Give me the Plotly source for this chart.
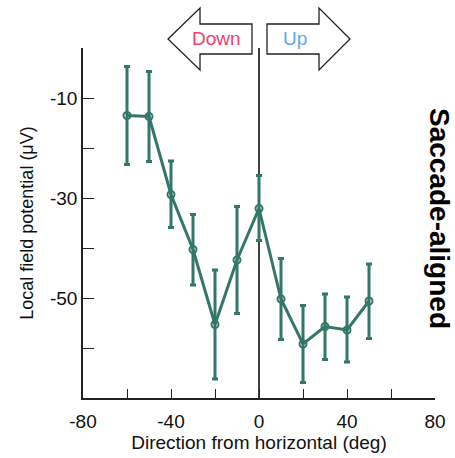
import plotly.graph_objects as go

direction = [-60, -50, -40, -30, -20, -10, 0, 10, 20, 30, 40, 50]
lfp = [-13.5, -13.7, -29.3, -40.3, -55.3, -42.4, -32.1, -50.2, -59.2, -55.7, -56.4, -50.6]
err_top = [-3.7, -4.7, -22.6, -33.3, -44.4, -31.7, -25.5, -42.1, -51.5, -49.2, -49.8, -43.2]
err_bot = [-23.3, -22.7, -35.9, -47.4, -66.2, -53.1, -38.5, -58.3, -66.9, -62.3, -62.8, -58.1]

xticks = [-80, -60, -40, -20, 0, 20, 40, 60, 80]
xticklabels = ["-80", "", "-40", "", "0", "", "40", "", "80"]
yticks = [0, -10, -20, -30, -40, -50, -60, -70]
yticklabels = ["", "-10", "", "-30", "", "-50", "", ""]

color = "#33776a"
plus = [t - v for t, v in zip(err_top, lfp)]
minus = [v - b for v, b in zip(lfp, err_bot)]

fig = go.Figure()
fig.add_trace(go.Scatter(
    x=direction, y=lfp, mode="lines+markers",
    line=dict(color=color, width=3),
    marker=dict(symbol="circle-open", size=7, color=color, line=dict(width=2, color=color)),
    error_y=dict(type="data", symmetric=False, array=plus, arrayminus=minus,
                 color=color, thickness=3, width=3),
    cliponaxis=False, showlegend=False,
))

fig.add_shape(type="line", xref="x", yref="y", x0=0, x1=0, y0=-70, y1=0,
              line=dict(color="black", width=1.5), layer="below")

L, R, T, B = 83, 435, 48, 398
W, H = R - L, B - T
def px(x):
    return (x - L) / W
def py(y):
    return (B - y) / H

left_arrow = [(168, 39), (200, 8), (200, 24), (252, 24), (252, 54), (200, 54), (200, 70)]
right_arrow = [(350, 39), (319, 8), (319, 24), (267, 24), (267, 54), (319, 54), (319, 70)]
for pts in (left_arrow, right_arrow):
    path = "M " + " L ".join(f"{px(a):.4f},{py(b):.4f}" for a, b in pts) + " Z"
    fig.add_shape(type="path", xref="paper", yref="paper", path=path, layer="below",
                  line=dict(color="#222222", width=1.3), fillcolor="white")

fig.add_annotation(x=px(216), y=py(39), xref="paper", yref="paper", text="Down",
                   xanchor="center", yanchor="middle", showarrow=False,
                   font=dict(family="Liberation Sans, Arial", size=19, color="#f03c6e"))
fig.add_annotation(x=px(295), y=py(39), xref="paper", yref="paper", text="Up",
                   xanchor="center", yanchor="middle", showarrow=False,
                   font=dict(family="Liberation Sans, Arial", size=19, color="#5ea6f5"))
fig.add_annotation(x=px(440), y=py(218), xref="paper", yref="paper", text="<b>Saccade-aligned</b>",
                   xanchor="center", yanchor="middle", showarrow=False, textangle=90,
                   font=dict(family="Liberation Sans, Arial", size=28, color="black"))

fig.update_layout(
    width=455, height=458,
    margin=dict(l=L, r=455 - R, t=T, b=458 - B),
    paper_bgcolor="white", plot_bgcolor="rgba(0,0,0,0)",
    font=dict(family="Liberation Sans, Arial", size=19, color="#111111"),
    xaxis=dict(range=[-80, 80], tickvals=xticks, ticktext=xticklabels,
               ticks="inside", ticklen=9, tickwidth=1.3, tickcolor="#222",
               ticklabelstandoff=5, automargin=False,
               showline=True, linecolor="#222", linewidth=1.5, showgrid=False, zeroline=False,
               title=dict(text="Direction from horizontal (deg)", standoff=4,
                          font=dict(size=19))),
    yaxis=dict(range=[-70, 0], tickvals=yticks, ticktext=yticklabels,
               ticks="inside", ticklen=11, tickwidth=1.3, tickcolor="#222",
               automargin=False,
               showline=True, linecolor="#222", linewidth=1.5, showgrid=False, zeroline=False,
               title=dict(text="Local field potential (μV)", standoff=12,
                          font=dict(size=18))),
)

fig.write_html("out.html")
